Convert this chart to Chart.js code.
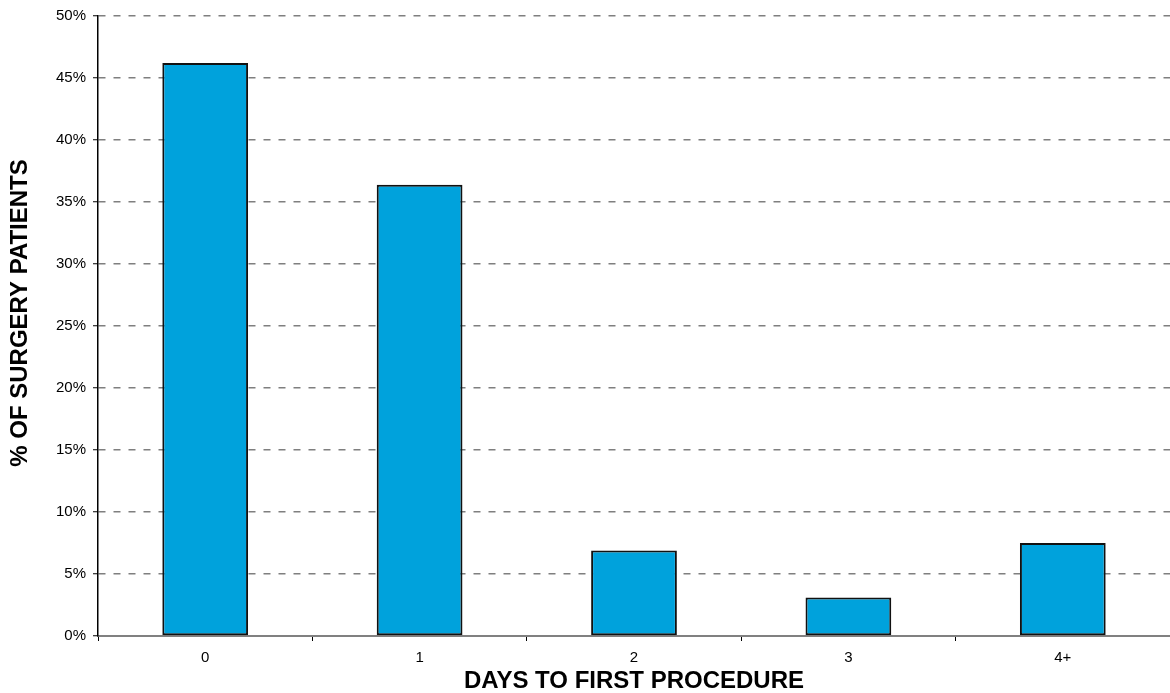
<!DOCTYPE html>
<html>
<head>
<meta charset="utf-8">
<script src="https://cdn.jsdelivr.net/npm/chart.js@4/dist/chart.umd.min.js"></script>
<style>
  html, body { margin: 0; padding: 0; background: #fff; }
  #wrap { width: 1170px; height: 693px; position: relative; }
</style>
</head>
<body>
<div id="wrap"><canvas id="c" width="1170" height="693"></canvas></div>
<script>
// Share of surgery patients by days to first procedure
const categories = ['0', '1', '2', '3', '4+'];
const patientShare = [46.2, 36.4, 6.9, 3.1, 7.5];
const yTickValues = [0, 5, 10, 15, 20, 25, 30, 35, 40, 45, 50];
const yTickLabels = ['0%', '5%', '10%', '15%', '20%', '25%', '30%', '35%', '40%', '45%', '50%'];
const xTitle = 'DAYS TO FIRST PROCEDURE';
const yTitle = '% OF SURGERY PATIENTS';

const FONT = '"Liberation Sans", Arial, sans-serif';

// Axis titles drawn relative to the chart area
const axisTitles = {
  id: 'axisTitles',
  afterDraw(chart) {
    const { ctx, chartArea } = chart;
    ctx.save();
    ctx.fillStyle = '#000';
    ctx.font = 'bold 24px ' + FONT;
    ctx.textAlign = 'center';
    ctx.textBaseline = 'middle';
    ctx.fillText(xTitle, (chartArea.left + chartArea.right) / 2, 681);
    ctx.translate(20, 313);
    ctx.rotate(-Math.PI / 2);
    ctx.fillText(yTitle, 0, 0);
    ctx.restore();
  }
};

new Chart(document.getElementById('c'), {
  type: 'bar',
  data: {
    labels: categories,
    datasets: [{
      data: patientShare,
      backgroundColor: '#00A2DC',
      borderColor: '#111',
      borderWidth: 2,
      borderSkipped: false,
      barPercentage: 0.4,
      categoryPercentage: 1.0
    }]
  },
  options: {
    responsive: false,
    animation: false,
    devicePixelRatio: 1,
    layout: { padding: { top: 16, right: 0, left: 0, bottom: 0 } },
    plugins: {
      legend: { display: false },
      tooltip: { enabled: false },
      title: { display: false }
    },
    scales: {
      x: {
        offset: true,
        grid: {
          offset: true,
          drawOnChartArea: false,
          drawTicks: true,
          tickLength: 5,
          tickColor: '#000',
          tickWidth: 1
        },
        border: { display: true, color: '#808080', width: 2 },
        ticks: {
          color: '#000',
          font: { family: FONT, size: 15 },
          padding: 8,
          maxRotation: 0
        },
        afterFit(scale) { scale.height = 57; }
      },
      y: {
        min: 0,
        max: 50,
        afterBuildTicks(scale) {
          scale.ticks = yTickValues.map(v => ({ value: v }));
        },
        grid: {
          color: '#7f7f7f',
          lineWidth: 1.5,
          drawTicks: true,
          tickLength: 5,
          tickColor: '#000',
          tickWidth: 1,
          tickBorderDash: []
        },
        border: { display: true, color: '#000', width: 1.5, dash: [7, 8] },
        ticks: {
          color: '#000',
          font: { family: FONT, size: 15 },
          padding: 7,
          callback(value) {
            const i = yTickValues.indexOf(value);
            return i >= 0 ? yTickLabels[i] : '';
          }
        },
        afterFit(scale) { scale.width = 98; }
      }
    }
  },
  plugins: [axisTitles]
});
</script>
</body>
</html>
